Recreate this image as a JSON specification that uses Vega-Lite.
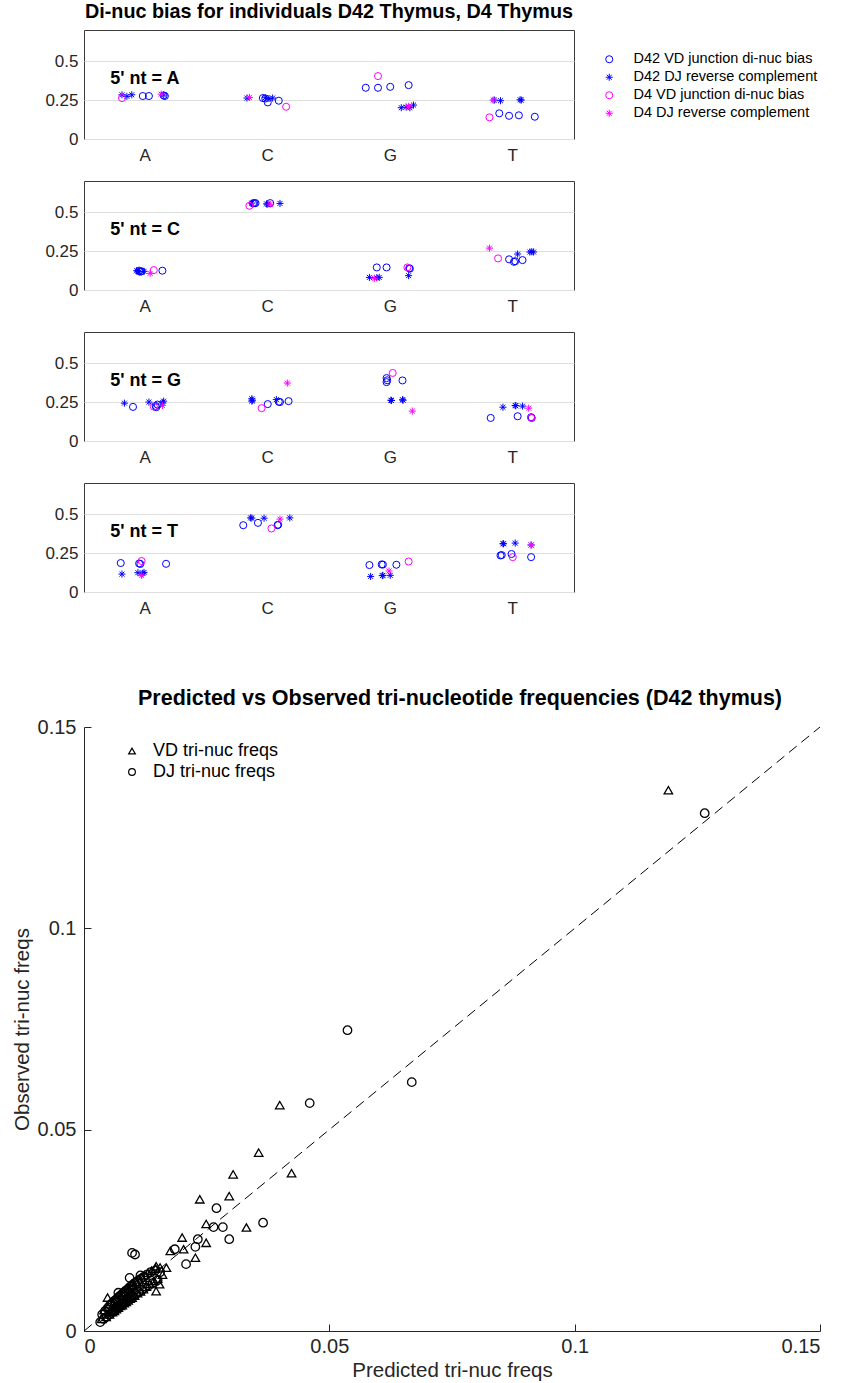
{
  "$schema": "https://vega.github.io/schema/vega-lite/v6.json",
  "background": "white",
  "padding": {"left": 12, "top": 1, "right": 5, "bottom": 5},
  "config": {
    "font": "Liberation Sans",
    "view": {"stroke": "#3a3a3a", "strokeWidth": 1},
    "point": {"opacity": 1},
    "axis": {"labelColor": "#262626", "titleColor": "#262626", "labelFont": "Liberation Sans", "titleFont": "Liberation Sans", "titleFontWeight": "normal"},
    "title": {"color": "#000000", "font": "Liberation Sans", "fontWeight": "bold"},
    "legend": {"labelFont": "Liberation Sans", "labelColor": "#000000"}
  },
  "datasets": {
    "dinuc": [
      {"panel": "5' nt = A", "base": "A", "series": "D42 VD junction di-nuc bias", "jitter": -0.02, "bias": 0.276},
      {"panel": "5' nt = A", "base": "A", "series": "D42 VD junction di-nuc bias", "jitter": 0.03, "bias": 0.276},
      {"panel": "5' nt = A", "base": "A", "series": "D42 VD junction di-nuc bias", "jitter": 0.16, "bias": 0.276},
      {"panel": "5' nt = A", "base": "A", "series": "D42 VD junction di-nuc bias", "jitter": 0.15, "bias": 0.28},
      {"panel": "5' nt = A", "base": "C", "series": "D42 VD junction di-nuc bias", "jitter": -0.04, "bias": 0.263},
      {"panel": "5' nt = A", "base": "C", "series": "D42 VD junction di-nuc bias", "jitter": -0.02, "bias": 0.26},
      {"panel": "5' nt = A", "base": "C", "series": "D42 VD junction di-nuc bias", "jitter": 0.0, "bias": 0.235},
      {"panel": "5' nt = A", "base": "C", "series": "D42 VD junction di-nuc bias", "jitter": 0.09, "bias": 0.246},
      {"panel": "5' nt = A", "base": "G", "series": "D42 VD junction di-nuc bias", "jitter": -0.2, "bias": 0.329},
      {"panel": "5' nt = A", "base": "G", "series": "D42 VD junction di-nuc bias", "jitter": -0.1, "bias": 0.329},
      {"panel": "5' nt = A", "base": "G", "series": "D42 VD junction di-nuc bias", "jitter": 0.0, "bias": 0.335},
      {"panel": "5' nt = A", "base": "G", "series": "D42 VD junction di-nuc bias", "jitter": 0.15, "bias": 0.346},
      {"panel": "5' nt = A", "base": "T", "series": "D42 VD junction di-nuc bias", "jitter": -0.11, "bias": 0.165},
      {"panel": "5' nt = A", "base": "T", "series": "D42 VD junction di-nuc bias", "jitter": -0.03, "bias": 0.149},
      {"panel": "5' nt = A", "base": "T", "series": "D42 VD junction di-nuc bias", "jitter": 0.05, "bias": 0.152},
      {"panel": "5' nt = A", "base": "T", "series": "D42 VD junction di-nuc bias", "jitter": 0.18, "bias": 0.143},
      {"panel": "5' nt = A", "base": "A", "series": "D42 DJ reverse complement", "jitter": -0.19, "bias": 0.284},
      {"panel": "5' nt = A", "base": "A", "series": "D42 DJ reverse complement", "jitter": -0.15, "bias": 0.274},
      {"panel": "5' nt = A", "base": "A", "series": "D42 DJ reverse complement", "jitter": -0.11, "bias": 0.284},
      {"panel": "5' nt = A", "base": "A", "series": "D42 DJ reverse complement", "jitter": 0.15, "bias": 0.282},
      {"panel": "5' nt = A", "base": "C", "series": "D42 DJ reverse complement", "jitter": -0.17, "bias": 0.263},
      {"panel": "5' nt = A", "base": "C", "series": "D42 DJ reverse complement", "jitter": -0.02, "bias": 0.265},
      {"panel": "5' nt = A", "base": "C", "series": "D42 DJ reverse complement", "jitter": 0.01, "bias": 0.26},
      {"panel": "5' nt = A", "base": "C", "series": "D42 DJ reverse complement", "jitter": 0.04, "bias": 0.263},
      {"panel": "5' nt = A", "base": "G", "series": "D42 DJ reverse complement", "jitter": 0.09, "bias": 0.201},
      {"panel": "5' nt = A", "base": "G", "series": "D42 DJ reverse complement", "jitter": 0.13, "bias": 0.205},
      {"panel": "5' nt = A", "base": "G", "series": "D42 DJ reverse complement", "jitter": 0.16, "bias": 0.201},
      {"panel": "5' nt = A", "base": "G", "series": "D42 DJ reverse complement", "jitter": 0.19, "bias": 0.218},
      {"panel": "5' nt = A", "base": "T", "series": "D42 DJ reverse complement", "jitter": -0.15, "bias": 0.25},
      {"panel": "5' nt = A", "base": "T", "series": "D42 DJ reverse complement", "jitter": -0.1, "bias": 0.246},
      {"panel": "5' nt = A", "base": "T", "series": "D42 DJ reverse complement", "jitter": 0.06, "bias": 0.252},
      {"panel": "5' nt = A", "base": "T", "series": "D42 DJ reverse complement", "jitter": 0.07, "bias": 0.25},
      {"panel": "5' nt = A", "base": "A", "series": "D4 VD junction di-nuc bias", "jitter": -0.19, "bias": 0.263},
      {"panel": "5' nt = A", "base": "C", "series": "D4 VD junction di-nuc bias", "jitter": 0.15, "bias": 0.207},
      {"panel": "5' nt = A", "base": "G", "series": "D4 VD junction di-nuc bias", "jitter": -0.1, "bias": 0.404},
      {"panel": "5' nt = A", "base": "T", "series": "D4 VD junction di-nuc bias", "jitter": -0.19, "bias": 0.139},
      {"panel": "5' nt = A", "base": "A", "series": "D4 DJ reverse complement", "jitter": 0.13, "bias": 0.288},
      {"panel": "5' nt = A", "base": "C", "series": "D4 DJ reverse complement", "jitter": -0.15, "bias": 0.267},
      {"panel": "5' nt = A", "base": "G", "series": "D4 DJ reverse complement", "jitter": 0.15, "bias": 0.21},
      {"panel": "5' nt = A", "base": "T", "series": "D4 DJ reverse complement", "jitter": -0.16, "bias": 0.25},

      {"panel": "5' nt = C", "base": "A", "series": "D42 VD junction di-nuc bias", "jitter": -0.05, "bias": 0.124},
      {"panel": "5' nt = C", "base": "A", "series": "D42 VD junction di-nuc bias", "jitter": -0.03, "bias": 0.12},
      {"panel": "5' nt = C", "base": "A", "series": "D42 VD junction di-nuc bias", "jitter": -0.04, "bias": 0.118},
      {"panel": "5' nt = C", "base": "A", "series": "D42 VD junction di-nuc bias", "jitter": 0.14, "bias": 0.124},
      {"panel": "5' nt = C", "base": "C", "series": "D42 VD junction di-nuc bias", "jitter": -0.12, "bias": 0.556},
      {"panel": "5' nt = C", "base": "C", "series": "D42 VD junction di-nuc bias", "jitter": -0.11, "bias": 0.558},
      {"panel": "5' nt = C", "base": "C", "series": "D42 VD junction di-nuc bias", "jitter": -0.1, "bias": 0.558},
      {"panel": "5' nt = C", "base": "C", "series": "D42 VD junction di-nuc bias", "jitter": 0.02, "bias": 0.558},
      {"panel": "5' nt = C", "base": "G", "series": "D42 VD junction di-nuc bias", "jitter": -0.11, "bias": 0.145},
      {"panel": "5' nt = C", "base": "G", "series": "D42 VD junction di-nuc bias", "jitter": -0.03, "bias": 0.145},
      {"panel": "5' nt = C", "base": "G", "series": "D42 VD junction di-nuc bias", "jitter": 0.155, "bias": 0.14},
      {"panel": "5' nt = C", "base": "G", "series": "D42 VD junction di-nuc bias", "jitter": 0.16, "bias": 0.137},
      {"panel": "5' nt = C", "base": "T", "series": "D42 VD junction di-nuc bias", "jitter": -0.03, "bias": 0.197},
      {"panel": "5' nt = C", "base": "T", "series": "D42 VD junction di-nuc bias", "jitter": 0.01, "bias": 0.181},
      {"panel": "5' nt = C", "base": "T", "series": "D42 VD junction di-nuc bias", "jitter": 0.02, "bias": 0.185},
      {"panel": "5' nt = C", "base": "T", "series": "D42 VD junction di-nuc bias", "jitter": 0.08, "bias": 0.192},
      {"panel": "5' nt = C", "base": "A", "series": "D42 DJ reverse complement", "jitter": -0.07, "bias": 0.124},
      {"panel": "5' nt = C", "base": "A", "series": "D42 DJ reverse complement", "jitter": -0.06, "bias": 0.12},
      {"panel": "5' nt = C", "base": "A", "series": "D42 DJ reverse complement", "jitter": -0.05, "bias": 0.116},
      {"panel": "5' nt = C", "base": "A", "series": "D42 DJ reverse complement", "jitter": -0.01, "bias": 0.12},
      {"panel": "5' nt = C", "base": "C", "series": "D42 DJ reverse complement", "jitter": -0.13, "bias": 0.558},
      {"panel": "5' nt = C", "base": "C", "series": "D42 DJ reverse complement", "jitter": -0.01, "bias": 0.553},
      {"panel": "5' nt = C", "base": "C", "series": "D42 DJ reverse complement", "jitter": 0.0, "bias": 0.551},
      {"panel": "5' nt = C", "base": "C", "series": "D42 DJ reverse complement", "jitter": 0.1, "bias": 0.556},
      {"panel": "5' nt = C", "base": "G", "series": "D42 DJ reverse complement", "jitter": -0.17, "bias": 0.081},
      {"panel": "5' nt = C", "base": "G", "series": "D42 DJ reverse complement", "jitter": -0.11, "bias": 0.079},
      {"panel": "5' nt = C", "base": "G", "series": "D42 DJ reverse complement", "jitter": -0.09, "bias": 0.081},
      {"panel": "5' nt = C", "base": "G", "series": "D42 DJ reverse complement", "jitter": 0.15, "bias": 0.092},
      {"panel": "5' nt = C", "base": "T", "series": "D42 DJ reverse complement", "jitter": 0.04, "bias": 0.231},
      {"panel": "5' nt = C", "base": "T", "series": "D42 DJ reverse complement", "jitter": 0.14, "bias": 0.244},
      {"panel": "5' nt = C", "base": "T", "series": "D42 DJ reverse complement", "jitter": 0.155, "bias": 0.246},
      {"panel": "5' nt = C", "base": "T", "series": "D42 DJ reverse complement", "jitter": 0.17, "bias": 0.244},
      {"panel": "5' nt = C", "base": "A", "series": "D4 VD junction di-nuc bias", "jitter": 0.07, "bias": 0.128},
      {"panel": "5' nt = C", "base": "C", "series": "D4 VD junction di-nuc bias", "jitter": -0.15, "bias": 0.541},
      {"panel": "5' nt = C", "base": "G", "series": "D4 VD junction di-nuc bias", "jitter": 0.14, "bias": 0.145},
      {"panel": "5' nt = C", "base": "T", "series": "D4 VD junction di-nuc bias", "jitter": -0.12, "bias": 0.203},
      {"panel": "5' nt = C", "base": "A", "series": "D4 DJ reverse complement", "jitter": 0.04, "bias": 0.107},
      {"panel": "5' nt = C", "base": "C", "series": "D4 DJ reverse complement", "jitter": 0.02, "bias": 0.551},
      {"panel": "5' nt = C", "base": "G", "series": "D4 DJ reverse complement", "jitter": -0.13, "bias": 0.075},
      {"panel": "5' nt = C", "base": "T", "series": "D4 DJ reverse complement", "jitter": -0.19, "bias": 0.269},

      {"panel": "5' nt = G", "base": "A", "series": "D42 VD junction di-nuc bias", "jitter": -0.1, "bias": 0.219},
      {"panel": "5' nt = G", "base": "A", "series": "D42 VD junction di-nuc bias", "jitter": 0.085, "bias": 0.225},
      {"panel": "5' nt = G", "base": "A", "series": "D42 VD junction di-nuc bias", "jitter": 0.09, "bias": 0.217},
      {"panel": "5' nt = G", "base": "A", "series": "D42 VD junction di-nuc bias", "jitter": 0.1, "bias": 0.234},
      {"panel": "5' nt = G", "base": "C", "series": "D42 VD junction di-nuc bias", "jitter": 0.0, "bias": 0.237},
      {"panel": "5' nt = G", "base": "C", "series": "D42 VD junction di-nuc bias", "jitter": 0.09, "bias": 0.252},
      {"panel": "5' nt = G", "base": "C", "series": "D42 VD junction di-nuc bias", "jitter": 0.1, "bias": 0.25},
      {"panel": "5' nt = G", "base": "C", "series": "D42 VD junction di-nuc bias", "jitter": 0.17, "bias": 0.256},
      {"panel": "5' nt = G", "base": "G", "series": "D42 VD junction di-nuc bias", "jitter": -0.03, "bias": 0.404},
      {"panel": "5' nt = G", "base": "G", "series": "D42 VD junction di-nuc bias", "jitter": -0.025, "bias": 0.39},
      {"panel": "5' nt = G", "base": "G", "series": "D42 VD junction di-nuc bias", "jitter": -0.03, "bias": 0.378},
      {"panel": "5' nt = G", "base": "G", "series": "D42 VD junction di-nuc bias", "jitter": 0.1, "bias": 0.389},
      {"panel": "5' nt = G", "base": "T", "series": "D42 VD junction di-nuc bias", "jitter": -0.18, "bias": 0.148},
      {"panel": "5' nt = G", "base": "T", "series": "D42 VD junction di-nuc bias", "jitter": 0.04, "bias": 0.159},
      {"panel": "5' nt = G", "base": "T", "series": "D42 VD junction di-nuc bias", "jitter": 0.15, "bias": 0.153},
      {"panel": "5' nt = G", "base": "T", "series": "D42 VD junction di-nuc bias", "jitter": 0.155, "bias": 0.148},
      {"panel": "5' nt = G", "base": "A", "series": "D42 DJ reverse complement", "jitter": -0.17, "bias": 0.243},
      {"panel": "5' nt = G", "base": "A", "series": "D42 DJ reverse complement", "jitter": 0.03, "bias": 0.25},
      {"panel": "5' nt = G", "base": "A", "series": "D42 DJ reverse complement", "jitter": 0.14, "bias": 0.245},
      {"panel": "5' nt = G", "base": "A", "series": "D42 DJ reverse complement", "jitter": 0.15, "bias": 0.256},
      {"panel": "5' nt = G", "base": "C", "series": "D42 DJ reverse complement", "jitter": -0.13, "bias": 0.271},
      {"panel": "5' nt = G", "base": "C", "series": "D42 DJ reverse complement", "jitter": -0.125, "bias": 0.262},
      {"panel": "5' nt = G", "base": "C", "series": "D42 DJ reverse complement", "jitter": -0.13, "bias": 0.256},
      {"panel": "5' nt = G", "base": "C", "series": "D42 DJ reverse complement", "jitter": 0.07, "bias": 0.266},
      {"panel": "5' nt = G", "base": "G", "series": "D42 DJ reverse complement", "jitter": 0.005, "bias": 0.262},
      {"panel": "5' nt = G", "base": "G", "series": "D42 DJ reverse complement", "jitter": 0.01, "bias": 0.26},
      {"panel": "5' nt = G", "base": "G", "series": "D42 DJ reverse complement", "jitter": 0.1, "bias": 0.265},
      {"panel": "5' nt = G", "base": "G", "series": "D42 DJ reverse complement", "jitter": 0.105, "bias": 0.262},
      {"panel": "5' nt = G", "base": "T", "series": "D42 DJ reverse complement", "jitter": -0.08, "bias": 0.217},
      {"panel": "5' nt = G", "base": "T", "series": "D42 DJ reverse complement", "jitter": 0.02, "bias": 0.228},
      {"panel": "5' nt = G", "base": "T", "series": "D42 DJ reverse complement", "jitter": 0.025, "bias": 0.226},
      {"panel": "5' nt = G", "base": "T", "series": "D42 DJ reverse complement", "jitter": 0.08, "bias": 0.224},
      {"panel": "5' nt = G", "base": "A", "series": "D4 VD junction di-nuc bias", "jitter": 0.07, "bias": 0.221},
      {"panel": "5' nt = G", "base": "C", "series": "D4 VD junction di-nuc bias", "jitter": -0.05, "bias": 0.211},
      {"panel": "5' nt = G", "base": "G", "series": "D4 VD junction di-nuc bias", "jitter": 0.02, "bias": 0.437},
      {"panel": "5' nt = G", "base": "T", "series": "D4 VD junction di-nuc bias", "jitter": 0.15, "bias": 0.15},
      {"panel": "5' nt = G", "base": "A", "series": "D4 DJ reverse complement", "jitter": 0.14, "bias": 0.228},
      {"panel": "5' nt = G", "base": "C", "series": "D4 DJ reverse complement", "jitter": 0.16, "bias": 0.372},
      {"panel": "5' nt = G", "base": "G", "series": "D4 DJ reverse complement", "jitter": 0.18, "bias": 0.192},
      {"panel": "5' nt = G", "base": "T", "series": "D4 DJ reverse complement", "jitter": 0.13, "bias": 0.211},

      {"panel": "5' nt = T", "base": "A", "series": "D42 VD junction di-nuc bias", "jitter": -0.2, "bias": 0.186},
      {"panel": "5' nt = T", "base": "A", "series": "D42 VD junction di-nuc bias", "jitter": -0.05, "bias": 0.183},
      {"panel": "5' nt = T", "base": "A", "series": "D42 VD junction di-nuc bias", "jitter": -0.04, "bias": 0.18},
      {"panel": "5' nt = T", "base": "A", "series": "D42 VD junction di-nuc bias", "jitter": 0.17, "bias": 0.181},
      {"panel": "5' nt = T", "base": "C", "series": "D42 VD junction di-nuc bias", "jitter": -0.2, "bias": 0.429},
      {"panel": "5' nt = T", "base": "C", "series": "D42 VD junction di-nuc bias", "jitter": -0.08, "bias": 0.444},
      {"panel": "5' nt = T", "base": "C", "series": "D42 VD junction di-nuc bias", "jitter": 0.08, "bias": 0.429},
      {"panel": "5' nt = T", "base": "C", "series": "D42 VD junction di-nuc bias", "jitter": 0.085, "bias": 0.432},
      {"panel": "5' nt = T", "base": "G", "series": "D42 VD junction di-nuc bias", "jitter": -0.17, "bias": 0.173},
      {"panel": "5' nt = T", "base": "G", "series": "D42 VD junction di-nuc bias", "jitter": -0.07, "bias": 0.177},
      {"panel": "5' nt = T", "base": "G", "series": "D42 VD junction di-nuc bias", "jitter": -0.06, "bias": 0.176},
      {"panel": "5' nt = T", "base": "G", "series": "D42 VD junction di-nuc bias", "jitter": 0.05, "bias": 0.175},
      {"panel": "5' nt = T", "base": "T", "series": "D42 VD junction di-nuc bias", "jitter": -0.1, "bias": 0.235},
      {"panel": "5' nt = T", "base": "T", "series": "D42 VD junction di-nuc bias", "jitter": -0.09, "bias": 0.237},
      {"panel": "5' nt = T", "base": "T", "series": "D42 VD junction di-nuc bias", "jitter": -0.01, "bias": 0.244},
      {"panel": "5' nt = T", "base": "T", "series": "D42 VD junction di-nuc bias", "jitter": 0.15, "bias": 0.224},
      {"panel": "5' nt = T", "base": "A", "series": "D42 DJ reverse complement", "jitter": -0.19, "bias": 0.115},
      {"panel": "5' nt = T", "base": "A", "series": "D42 DJ reverse complement", "jitter": -0.06, "bias": 0.124},
      {"panel": "5' nt = T", "base": "A", "series": "D42 DJ reverse complement", "jitter": -0.02, "bias": 0.12},
      {"panel": "5' nt = T", "base": "A", "series": "D42 DJ reverse complement", "jitter": -0.01, "bias": 0.126},
      {"panel": "5' nt = T", "base": "C", "series": "D42 DJ reverse complement", "jitter": -0.14, "bias": 0.476},
      {"panel": "5' nt = T", "base": "C", "series": "D42 DJ reverse complement", "jitter": -0.13, "bias": 0.475},
      {"panel": "5' nt = T", "base": "C", "series": "D42 DJ reverse complement", "jitter": -0.03, "bias": 0.474},
      {"panel": "5' nt = T", "base": "C", "series": "D42 DJ reverse complement", "jitter": 0.18, "bias": 0.476},
      {"panel": "5' nt = T", "base": "G", "series": "D42 DJ reverse complement", "jitter": -0.16, "bias": 0.1},
      {"panel": "5' nt = T", "base": "G", "series": "D42 DJ reverse complement", "jitter": -0.065, "bias": 0.105},
      {"panel": "5' nt = T", "base": "G", "series": "D42 DJ reverse complement", "jitter": -0.06, "bias": 0.107},
      {"panel": "5' nt = T", "base": "G", "series": "D42 DJ reverse complement", "jitter": 0.0, "bias": 0.107},
      {"panel": "5' nt = T", "base": "T", "series": "D42 DJ reverse complement", "jitter": -0.08, "bias": 0.31},
      {"panel": "5' nt = T", "base": "T", "series": "D42 DJ reverse complement", "jitter": -0.075, "bias": 0.31},
      {"panel": "5' nt = T", "base": "T", "series": "D42 DJ reverse complement", "jitter": 0.02, "bias": 0.314},
      {"panel": "5' nt = T", "base": "T", "series": "D42 DJ reverse complement", "jitter": 0.15, "bias": 0.302},
      {"panel": "5' nt = T", "base": "A", "series": "D4 VD junction di-nuc bias", "jitter": -0.03, "bias": 0.199},
      {"panel": "5' nt = T", "base": "C", "series": "D4 VD junction di-nuc bias", "jitter": 0.03, "bias": 0.408},
      {"panel": "5' nt = T", "base": "G", "series": "D4 VD junction di-nuc bias", "jitter": 0.15, "bias": 0.196},
      {"panel": "5' nt = T", "base": "T", "series": "D4 VD junction di-nuc bias", "jitter": 0.0, "bias": 0.224},
      {"panel": "5' nt = T", "base": "A", "series": "D4 DJ reverse complement", "jitter": -0.03, "bias": 0.107},
      {"panel": "5' nt = T", "base": "C", "series": "D4 DJ reverse complement", "jitter": 0.1, "bias": 0.468},
      {"panel": "5' nt = T", "base": "G", "series": "D4 DJ reverse complement", "jitter": -0.01, "bias": 0.135},
      {"panel": "5' nt = T", "base": "T", "series": "D4 DJ reverse complement", "jitter": 0.15, "bias": 0.301}
    ],
    "trinuc": [
      {"set": "VD tri-nuc freqs", "predicted": 0.1191, "observed": 0.1343},
      {"set": "VD tri-nuc freqs", "predicted": 0.0399, "observed": 0.0561},
      {"set": "VD tri-nuc freqs", "predicted": 0.0356, "observed": 0.0443},
      {"set": "VD tri-nuc freqs", "predicted": 0.0423, "observed": 0.0392},
      {"set": "VD tri-nuc freqs", "predicted": 0.0304, "observed": 0.0389},
      {"set": "VD tri-nuc freqs", "predicted": 0.0296, "observed": 0.0335},
      {"set": "VD tri-nuc freqs", "predicted": 0.0236, "observed": 0.0327},
      {"set": "VD tri-nuc freqs", "predicted": 0.0249, "observed": 0.0266},
      {"set": "VD tri-nuc freqs", "predicted": 0.0331, "observed": 0.0257},
      {"set": "VD tri-nuc freqs", "predicted": 0.0200, "observed": 0.0232},
      {"set": "VD tri-nuc freqs", "predicted": 0.0249, "observed": 0.0219},
      {"set": "VD tri-nuc freqs", "predicted": 0.0176, "observed": 0.0199},
      {"set": "VD tri-nuc freqs", "predicted": 0.0203, "observed": 0.0203},
      {"set": "VD tri-nuc freqs", "predicted": 0.0227, "observed": 0.0182},
      {"set": "VD tri-nuc freqs", "predicted": 0.0147, "observed": 0.0161},
      {"set": "VD tri-nuc freqs", "predicted": 0.0168, "observed": 0.0157},
      {"set": "VD tri-nuc freqs", "predicted": 0.0154, "observed": 0.0116},
      {"set": "VD tri-nuc freqs", "predicted": 0.0147, "observed": 0.0099},
      {"set": "VD tri-nuc freqs", "predicted": 0.0048, "observed": 0.0083},
      {"set": "VD tri-nuc freqs", "predicted": 0.0036, "observed": 0.0030},
      {"set": "VD tri-nuc freqs", "predicted": 0.0041, "observed": 0.0052},
      {"set": "VD tri-nuc freqs", "predicted": 0.0045, "observed": 0.0035},
      {"set": "VD tri-nuc freqs", "predicted": 0.0048, "observed": 0.0060},
      {"set": "VD tri-nuc freqs", "predicted": 0.0052, "observed": 0.0041},
      {"set": "VD tri-nuc freqs", "predicted": 0.0055, "observed": 0.0072},
      {"set": "VD tri-nuc freqs", "predicted": 0.0058, "observed": 0.0047},
      {"set": "VD tri-nuc freqs", "predicted": 0.0060, "observed": 0.0068},
      {"set": "VD tri-nuc freqs", "predicted": 0.0062, "observed": 0.0050},
      {"set": "VD tri-nuc freqs", "predicted": 0.0064, "observed": 0.0080},
      {"set": "VD tri-nuc freqs", "predicted": 0.0066, "observed": 0.0054},
      {"set": "VD tri-nuc freqs", "predicted": 0.0068, "observed": 0.0076},
      {"set": "VD tri-nuc freqs", "predicted": 0.0070, "observed": 0.0058},
      {"set": "VD tri-nuc freqs", "predicted": 0.0072, "observed": 0.0090},
      {"set": "VD tri-nuc freqs", "predicted": 0.0074, "observed": 0.0062},
      {"set": "VD tri-nuc freqs", "predicted": 0.0076, "observed": 0.0086},
      {"set": "VD tri-nuc freqs", "predicted": 0.0078, "observed": 0.0064},
      {"set": "VD tri-nuc freqs", "predicted": 0.0080, "observed": 0.0097},
      {"set": "VD tri-nuc freqs", "predicted": 0.0082, "observed": 0.0069},
      {"set": "VD tri-nuc freqs", "predicted": 0.0084, "observed": 0.0095},
      {"set": "VD tri-nuc freqs", "predicted": 0.0086, "observed": 0.0072},
      {"set": "VD tri-nuc freqs", "predicted": 0.0088, "observed": 0.0106},
      {"set": "VD tri-nuc freqs", "predicted": 0.0090, "observed": 0.0076},
      {"set": "VD tri-nuc freqs", "predicted": 0.0092, "observed": 0.0104},
      {"set": "VD tri-nuc freqs", "predicted": 0.0094, "observed": 0.0080},
      {"set": "VD tri-nuc freqs", "predicted": 0.0096, "observed": 0.0114},
      {"set": "VD tri-nuc freqs", "predicted": 0.0098, "observed": 0.0083},
      {"set": "VD tri-nuc freqs", "predicted": 0.0100, "observed": 0.0112},
      {"set": "VD tri-nuc freqs", "predicted": 0.0103, "observed": 0.0088},
      {"set": "VD tri-nuc freqs", "predicted": 0.0106, "observed": 0.0122},
      {"set": "VD tri-nuc freqs", "predicted": 0.0109, "observed": 0.0094},
      {"set": "VD tri-nuc freqs", "predicted": 0.0112, "observed": 0.0128},
      {"set": "VD tri-nuc freqs", "predicted": 0.0115, "observed": 0.0098},
      {"set": "VD tri-nuc freqs", "predicted": 0.0118, "observed": 0.0133},
      {"set": "VD tri-nuc freqs", "predicted": 0.0121, "observed": 0.0104},
      {"set": "VD tri-nuc freqs", "predicted": 0.0124, "observed": 0.0138},
      {"set": "VD tri-nuc freqs", "predicted": 0.0127, "observed": 0.0110},
      {"set": "VD tri-nuc freqs", "predicted": 0.0130, "observed": 0.0144},
      {"set": "VD tri-nuc freqs", "predicted": 0.0134, "observed": 0.0117},
      {"set": "VD tri-nuc freqs", "predicted": 0.0138, "observed": 0.0150},
      {"set": "VD tri-nuc freqs", "predicted": 0.0142, "observed": 0.0124},
      {"set": "VD tri-nuc freqs", "predicted": 0.0146, "observed": 0.0155},
      {"set": "VD tri-nuc freqs", "predicted": 0.0150, "observed": 0.0130},
      {"set": "VD tri-nuc freqs", "predicted": 0.0155, "observed": 0.0158},
      {"set": "VD tri-nuc freqs", "predicted": 0.0160, "observed": 0.0140},
      {"set": "DJ tri-nuc freqs", "predicted": 0.1265, "observed": 0.1286},
      {"set": "DJ tri-nuc freqs", "predicted": 0.0537, "observed": 0.0747},
      {"set": "DJ tri-nuc freqs", "predicted": 0.0668, "observed": 0.0618},
      {"set": "DJ tri-nuc freqs", "predicted": 0.0460, "observed": 0.0566},
      {"set": "DJ tri-nuc freqs", "predicted": 0.0365, "observed": 0.0269},
      {"set": "DJ tri-nuc freqs", "predicted": 0.0270, "observed": 0.0305},
      {"set": "DJ tri-nuc freqs", "predicted": 0.0283, "observed": 0.0258},
      {"set": "DJ tri-nuc freqs", "predicted": 0.0264, "observed": 0.0258},
      {"set": "DJ tri-nuc freqs", "predicted": 0.0296, "observed": 0.0228},
      {"set": "DJ tri-nuc freqs", "predicted": 0.0232, "observed": 0.0228},
      {"set": "DJ tri-nuc freqs", "predicted": 0.0227, "observed": 0.0209},
      {"set": "DJ tri-nuc freqs", "predicted": 0.0185, "observed": 0.0203},
      {"set": "DJ tri-nuc freqs", "predicted": 0.0208, "observed": 0.0166},
      {"set": "DJ tri-nuc freqs", "predicted": 0.0098, "observed": 0.0194},
      {"set": "DJ tri-nuc freqs", "predicted": 0.0104, "observed": 0.0190},
      {"set": "DJ tri-nuc freqs", "predicted": 0.0093, "observed": 0.0132},
      {"set": "DJ tri-nuc freqs", "predicted": 0.0070, "observed": 0.0095},
      {"set": "DJ tri-nuc freqs", "predicted": 0.0115, "observed": 0.0138},
      {"set": "DJ tri-nuc freqs", "predicted": 0.0033, "observed": 0.0022},
      {"set": "DJ tri-nuc freqs", "predicted": 0.0037, "observed": 0.0041},
      {"set": "DJ tri-nuc freqs", "predicted": 0.0040, "observed": 0.0030},
      {"set": "DJ tri-nuc freqs", "predicted": 0.0043, "observed": 0.0050},
      {"set": "DJ tri-nuc freqs", "predicted": 0.0046, "observed": 0.0035},
      {"set": "DJ tri-nuc freqs", "predicted": 0.0049, "observed": 0.0058},
      {"set": "DJ tri-nuc freqs", "predicted": 0.0051, "observed": 0.0040},
      {"set": "DJ tri-nuc freqs", "predicted": 0.0053, "observed": 0.0064},
      {"set": "DJ tri-nuc freqs", "predicted": 0.0056, "observed": 0.0045},
      {"set": "DJ tri-nuc freqs", "predicted": 0.0058, "observed": 0.0070},
      {"set": "DJ tri-nuc freqs", "predicted": 0.0060, "observed": 0.0049},
      {"set": "DJ tri-nuc freqs", "predicted": 0.0062, "observed": 0.0075},
      {"set": "DJ tri-nuc freqs", "predicted": 0.0064, "observed": 0.0053},
      {"set": "DJ tri-nuc freqs", "predicted": 0.0066, "observed": 0.0079},
      {"set": "DJ tri-nuc freqs", "predicted": 0.0068, "observed": 0.0057},
      {"set": "DJ tri-nuc freqs", "predicted": 0.0070, "observed": 0.0084},
      {"set": "DJ tri-nuc freqs", "predicted": 0.0072, "observed": 0.0061},
      {"set": "DJ tri-nuc freqs", "predicted": 0.0074, "observed": 0.0088},
      {"set": "DJ tri-nuc freqs", "predicted": 0.0076, "observed": 0.0065},
      {"set": "DJ tri-nuc freqs", "predicted": 0.0078, "observed": 0.0092},
      {"set": "DJ tri-nuc freqs", "predicted": 0.0080, "observed": 0.0068},
      {"set": "DJ tri-nuc freqs", "predicted": 0.0082, "observed": 0.0097},
      {"set": "DJ tri-nuc freqs", "predicted": 0.0084, "observed": 0.0072},
      {"set": "DJ tri-nuc freqs", "predicted": 0.0086, "observed": 0.0101},
      {"set": "DJ tri-nuc freqs", "predicted": 0.0088, "observed": 0.0076},
      {"set": "DJ tri-nuc freqs", "predicted": 0.0090, "observed": 0.0105},
      {"set": "DJ tri-nuc freqs", "predicted": 0.0092, "observed": 0.0080},
      {"set": "DJ tri-nuc freqs", "predicted": 0.0094, "observed": 0.0110},
      {"set": "DJ tri-nuc freqs", "predicted": 0.0096, "observed": 0.0084},
      {"set": "DJ tri-nuc freqs", "predicted": 0.0098, "observed": 0.0114},
      {"set": "DJ tri-nuc freqs", "predicted": 0.0100, "observed": 0.0087},
      {"set": "DJ tri-nuc freqs", "predicted": 0.0103, "observed": 0.0119},
      {"set": "DJ tri-nuc freqs", "predicted": 0.0106, "observed": 0.0092},
      {"set": "DJ tri-nuc freqs", "predicted": 0.0109, "observed": 0.0124},
      {"set": "DJ tri-nuc freqs", "predicted": 0.0112, "observed": 0.0097},
      {"set": "DJ tri-nuc freqs", "predicted": 0.0115, "observed": 0.0129},
      {"set": "DJ tri-nuc freqs", "predicted": 0.0118, "observed": 0.0102},
      {"set": "DJ tri-nuc freqs", "predicted": 0.0121, "observed": 0.0134},
      {"set": "DJ tri-nuc freqs", "predicted": 0.0124, "observed": 0.0107},
      {"set": "DJ tri-nuc freqs", "predicted": 0.0128, "observed": 0.0140},
      {"set": "DJ tri-nuc freqs", "predicted": 0.0132, "observed": 0.0113},
      {"set": "DJ tri-nuc freqs", "predicted": 0.0136, "observed": 0.0146},
      {"set": "DJ tri-nuc freqs", "predicted": 0.0140, "observed": 0.0119},
      {"set": "DJ tri-nuc freqs", "predicted": 0.0145, "observed": 0.0150},
      {"set": "DJ tri-nuc freqs", "predicted": 0.0150, "observed": 0.0126},
      {"set": "DJ tri-nuc freqs", "predicted": 0.0155, "observed": 0.0146}
    ]
  },
  "vconcat": [
    {
      "vconcat": [
        {
          "width": 490,
          "height": 109,
          "title": {"text": "Di-nuc bias for individuals D42 Thymus, D4 Thymus", "fontSize": 19.8, "anchor": "middle", "offset": 8},
          "data": {"name": "dinuc"},
          "transform": [{"filter": "datum.panel === \"5' nt = A\""}],
          "layer": [
            {
              "mark": {"type": "point", "filled": false, "size": 50, "strokeWidth": 1, "opacity": 1},
              "encoding": {
                "x": {"field": "base", "type": "nominal", "scale": {"domain": ["A", "C", "G", "T"], "paddingInner": 0, "paddingOuter": 0}, "axis": {"title": null, "labelAngle": 0, "labelFontSize": 17, "labelPadding": 8, "domain": false, "ticks": false, "grid": false}},
                "xOffset": {"field": "jitter", "type": "quantitative", "scale": {"domain": [-0.5, 0.5]}},
                "y": {"field": "bias", "type": "quantitative", "scale": {"domain": [0, 0.7], "nice": false}, "axis": {"title": null, "values": [0, 0.25, 0.5], "labelExpr": "'' + datum.value", "labelFontSize": 17, "labelPadding": 6, "domain": false, "ticks": false, "grid": true, "gridColor": "#dedede"}},
                "color": {"field": "series", "type": "nominal", "scale": {"domain": ["D42 VD junction di-nuc bias", "D42 DJ reverse complement", "D4 VD junction di-nuc bias", "D4 DJ reverse complement"], "range": ["#0000ff", "#0000ff", "#ff00ff", "#ff00ff"]},
                  "legend": {"title": null, "orient": "none", "legendX": 518, "legendY": 22, "labelFontSize": 14.5, "labelOffset": 17, "rowPadding": 3, "symbolSize": 50, "symbolStrokeWidth": 1, "symbolOpacity": 1, "padding": 0, "labelLimit": 300}},
                "shape": {"field": "series", "type": "nominal", "scale": {"domain": ["D42 VD junction di-nuc bias", "D42 DJ reverse complement", "D4 VD junction di-nuc bias", "D4 DJ reverse complement"], "range": ["circle", "M-1,0H1M0,-1V1M-0.7,-0.7L0.7,0.7M-0.7,0.7L0.7,-0.7", "circle", "M-1,0H1M0,-1V1M-0.7,-0.7L0.7,0.7M-0.7,0.7L0.7,-0.7"]},
                  "legend": {"title": null, "orient": "none", "legendX": 518, "legendY": 22, "labelFontSize": 14.5, "labelOffset": 17, "rowPadding": 3, "symbolSize": 50, "symbolStrokeWidth": 1, "symbolOpacity": 1, "padding": 0, "labelLimit": 300}}
              }
            },
            {
              "transform": [{"aggregate": [], "groupby": ["panel"]}],
              "mark": {"type": "text", "align": "left", "baseline": "middle", "fontWeight": "bold", "fontSize": 18, "dx": -35, "color": "#000000"},
              "encoding": {"x": {"datum": "A", "type": "nominal"}, "y": {"datum": 0.385, "type": "quantitative"}, "text": {"field": "panel", "type": "nominal"}}
            }
          ]
        },
        {
          "width": 490,
          "height": 109,
          "data": {"name": "dinuc"},
          "transform": [{"filter": "datum.panel === \"5' nt = C\""}],
          "layer": [
            {
              "mark": {"type": "point", "filled": false, "size": 50, "strokeWidth": 1, "opacity": 1},
              "encoding": {
                "x": {"field": "base", "type": "nominal", "scale": {"domain": ["A", "C", "G", "T"], "paddingInner": 0, "paddingOuter": 0}, "axis": {"title": null, "labelAngle": 0, "labelFontSize": 17, "labelPadding": 8, "domain": false, "ticks": false, "grid": false}},
                "xOffset": {"field": "jitter", "type": "quantitative", "scale": {"domain": [-0.5, 0.5]}},
                "y": {"field": "bias", "type": "quantitative", "scale": {"domain": [0, 0.7], "nice": false}, "axis": {"title": null, "values": [0, 0.25, 0.5], "labelExpr": "'' + datum.value", "labelFontSize": 17, "labelPadding": 6, "domain": false, "ticks": false, "grid": true, "gridColor": "#dedede"}},
                "color": {"field": "series", "type": "nominal", "scale": {"domain": ["D42 VD junction di-nuc bias", "D42 DJ reverse complement", "D4 VD junction di-nuc bias", "D4 DJ reverse complement"], "range": ["#0000ff", "#0000ff", "#ff00ff", "#ff00ff"]}, "legend": null},
                "shape": {"field": "series", "type": "nominal", "scale": {"domain": ["D42 VD junction di-nuc bias", "D42 DJ reverse complement", "D4 VD junction di-nuc bias", "D4 DJ reverse complement"], "range": ["circle", "M-1,0H1M0,-1V1M-0.7,-0.7L0.7,0.7M-0.7,0.7L0.7,-0.7", "circle", "M-1,0H1M0,-1V1M-0.7,-0.7L0.7,0.7M-0.7,0.7L0.7,-0.7"]}, "legend": null}
              }
            },
            {
              "transform": [{"aggregate": [], "groupby": ["panel"]}],
              "mark": {"type": "text", "align": "left", "baseline": "middle", "fontWeight": "bold", "fontSize": 18, "dx": -35, "color": "#000000"},
              "encoding": {"x": {"datum": "A", "type": "nominal"}, "y": {"datum": 0.385, "type": "quantitative"}, "text": {"field": "panel", "type": "nominal"}}
            }
          ]
        },
        {
          "width": 490,
          "height": 109,
          "data": {"name": "dinuc"},
          "transform": [{"filter": "datum.panel === \"5' nt = G\""}],
          "layer": [
            {
              "mark": {"type": "point", "filled": false, "size": 50, "strokeWidth": 1, "opacity": 1},
              "encoding": {
                "x": {"field": "base", "type": "nominal", "scale": {"domain": ["A", "C", "G", "T"], "paddingInner": 0, "paddingOuter": 0}, "axis": {"title": null, "labelAngle": 0, "labelFontSize": 17, "labelPadding": 8, "domain": false, "ticks": false, "grid": false}},
                "xOffset": {"field": "jitter", "type": "quantitative", "scale": {"domain": [-0.5, 0.5]}},
                "y": {"field": "bias", "type": "quantitative", "scale": {"domain": [0, 0.7], "nice": false}, "axis": {"title": null, "values": [0, 0.25, 0.5], "labelExpr": "'' + datum.value", "labelFontSize": 17, "labelPadding": 6, "domain": false, "ticks": false, "grid": true, "gridColor": "#dedede"}},
                "color": {"field": "series", "type": "nominal", "scale": {"domain": ["D42 VD junction di-nuc bias", "D42 DJ reverse complement", "D4 VD junction di-nuc bias", "D4 DJ reverse complement"], "range": ["#0000ff", "#0000ff", "#ff00ff", "#ff00ff"]}, "legend": null},
                "shape": {"field": "series", "type": "nominal", "scale": {"domain": ["D42 VD junction di-nuc bias", "D42 DJ reverse complement", "D4 VD junction di-nuc bias", "D4 DJ reverse complement"], "range": ["circle", "M-1,0H1M0,-1V1M-0.7,-0.7L0.7,0.7M-0.7,0.7L0.7,-0.7", "circle", "M-1,0H1M0,-1V1M-0.7,-0.7L0.7,0.7M-0.7,0.7L0.7,-0.7"]}, "legend": null}
              }
            },
            {
              "transform": [{"aggregate": [], "groupby": ["panel"]}],
              "mark": {"type": "text", "align": "left", "baseline": "middle", "fontWeight": "bold", "fontSize": 18, "dx": -35, "color": "#000000"},
              "encoding": {"x": {"datum": "A", "type": "nominal"}, "y": {"datum": 0.385, "type": "quantitative"}, "text": {"field": "panel", "type": "nominal"}}
            }
          ]
        },
        {
          "width": 490,
          "height": 109,
          "data": {"name": "dinuc"},
          "transform": [{"filter": "datum.panel === \"5' nt = T\""}],
          "layer": [
            {
              "mark": {"type": "point", "filled": false, "size": 50, "strokeWidth": 1, "opacity": 1},
              "encoding": {
                "x": {"field": "base", "type": "nominal", "scale": {"domain": ["A", "C", "G", "T"], "paddingInner": 0, "paddingOuter": 0}, "axis": {"title": null, "labelAngle": 0, "labelFontSize": 17, "labelPadding": 8, "domain": false, "ticks": false, "grid": false}},
                "xOffset": {"field": "jitter", "type": "quantitative", "scale": {"domain": [-0.5, 0.5]}},
                "y": {"field": "bias", "type": "quantitative", "scale": {"domain": [0, 0.7], "nice": false}, "axis": {"title": null, "values": [0, 0.25, 0.5], "labelExpr": "'' + datum.value", "labelFontSize": 17, "labelPadding": 6, "domain": false, "ticks": false, "grid": true, "gridColor": "#dedede"}},
                "color": {"field": "series", "type": "nominal", "scale": {"domain": ["D42 VD junction di-nuc bias", "D42 DJ reverse complement", "D4 VD junction di-nuc bias", "D4 DJ reverse complement"], "range": ["#0000ff", "#0000ff", "#ff00ff", "#ff00ff"]}, "legend": null},
                "shape": {"field": "series", "type": "nominal", "scale": {"domain": ["D42 VD junction di-nuc bias", "D42 DJ reverse complement", "D4 VD junction di-nuc bias", "D4 DJ reverse complement"], "range": ["circle", "M-1,0H1M0,-1V1M-0.7,-0.7L0.7,0.7M-0.7,0.7L0.7,-0.7", "circle", "M-1,0H1M0,-1V1M-0.7,-0.7L0.7,0.7M-0.7,0.7L0.7,-0.7"]}, "legend": null}
              }
            },
            {
              "transform": [{"aggregate": [], "groupby": ["panel"]}],
              "mark": {"type": "text", "align": "left", "baseline": "middle", "fontWeight": "bold", "fontSize": 18, "dx": -35, "color": "#000000"},
              "encoding": {"x": {"datum": "A", "type": "nominal"}, "y": {"datum": 0.385, "type": "quantitative"}, "text": {"field": "panel", "type": "nominal"}}
            }
          ]
        }
      ],
      "spacing": 42,
      "bounds": "flush",
      "resolve": {"legend": {"color": "independent", "shape": "independent"}}
    },
    {
      "width": 736,
      "height": 604,
      "view": {"stroke": null},
      "title": {"text": "Predicted vs Observed tri-nucleotide frequencies (D42 thymus)", "fontSize": 21.5, "anchor": "middle", "offset": 8, "dx": 8},
      "layer": [
        {
          "data": {"values": [{}]},
          "mark": {"type": "rule", "color": "#000000", "strokeWidth": 1, "strokeDash": [10, 6]},
          "encoding": {
            "x": {"datum": 0, "type": "quantitative"},
            "y": {"datum": 0, "type": "quantitative"},
            "x2": {"datum": 0.15},
            "y2": {"datum": 0.15}
          }
        },
        {
          "data": {"name": "trinuc"},
          "mark": {"type": "point", "filled": false, "color": "#000000", "size": 72, "strokeWidth": 1.3, "opacity": 1},
          "encoding": {
            "x": {"field": "predicted", "type": "quantitative", "scale": {"domain": [0, 0.15], "nice": false, "zero": true},
              "axis": {"title": "Predicted tri-nuc freqs", "values": [0, 0.05, 0.1, 0.15], "labelExpr": "'' + datum.value", "labelFontSize": 20, "titleFontSize": 20.5, "labelPadding": 12, "titlePadding": 4, "domainColor": "#262626", "tickColor": "#262626", "tickSize": -7, "grid": false}},
            "y": {"field": "observed", "type": "quantitative", "scale": {"domain": [0, 0.15], "nice": false, "zero": true},
              "axis": {"title": "Observed tri-nuc freqs", "values": [0, 0.05, 0.1, 0.15], "labelExpr": "'' + datum.value", "labelFontSize": 20, "titleFontSize": 20.5, "labelPadding": 15, "titlePadding": 5, "domainColor": "#262626", "tickColor": "#262626", "tickSize": -7, "grid": false}},
            "shape": {"field": "set", "type": "nominal", "scale": {"domain": ["VD tri-nuc freqs", "DJ tri-nuc freqs"], "range": ["triangle-up", "circle"]},
              "legend": {"title": null, "orient": "none", "legendX": 39, "legendY": 15, "labelFontSize": 18, "labelOffset": 12, "rowPadding": 3, "symbolSize": 45, "symbolStrokeWidth": 1.2, "symbolStrokeColor": "#000000", "symbolOpacity": 1, "padding": 0}}
          }
        }
      ]
    }
  ],
  "spacing": 70,
  "resolve": {"scale": {"shape": "independent", "color": "independent"}, "legend": {"shape": "independent", "color": "independent"}}
}
